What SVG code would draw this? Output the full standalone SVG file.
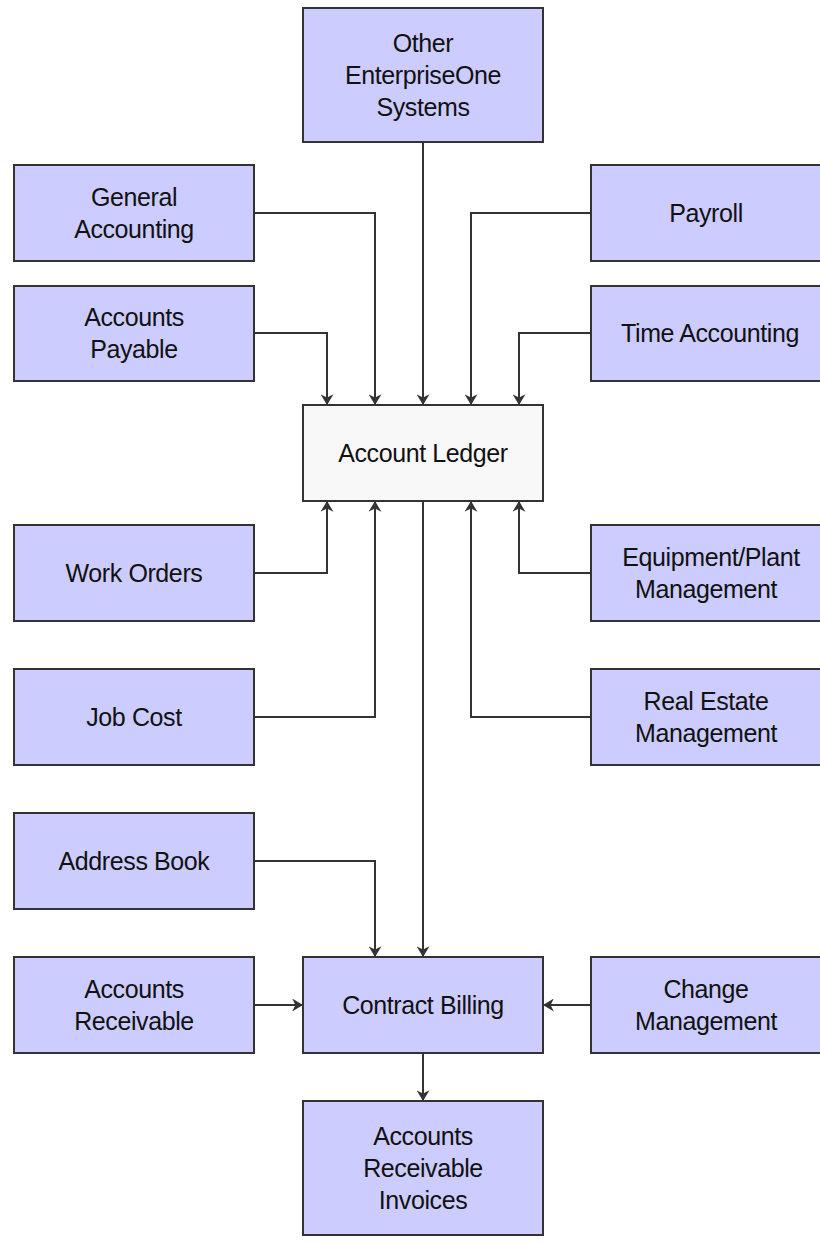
<svg xmlns="http://www.w3.org/2000/svg" width="820" height="1244" viewBox="0 0 820 1244">
<defs>
<style>
.box{fill:#ccccff;stroke:#333;stroke-width:2}
.ledger{fill:#f8f8f8;stroke:#333;stroke-width:2}
text{font-family:"Liberation Sans",Arial,sans-serif;font-size:25px;fill:#111;text-anchor:middle;letter-spacing:-0.4px}
.c path{fill:none;stroke:#333;stroke-width:2;marker-end:url(#ah)}
</style>
<marker id="ah" viewBox="0 0 10 12" refX="10" refY="6" markerWidth="12" markerHeight="13" markerUnits="userSpaceOnUse" orient="auto">
<path d="M0,0 L10,6 L0,12 L3,6 Z" fill="#333"/>
</marker>
</defs>
<rect width="820" height="1244" fill="#fff"/>
<g class="c">
<path d="M423,142 V405"/>
<path d="M254,213 H375 V405"/>
<path d="M254,333 H327 V405"/>
<path d="M591,213 H471 V405"/>
<path d="M591,333 H519 V405"/>
<path d="M254,573 H327 V501"/>
<path d="M254,717 H375 V501"/>
<path d="M591,573 H519 V501"/>
<path d="M591,717 H471 V501"/>
<path d="M423,501 V957"/>
<path d="M254,861 H375 V957"/>
<path d="M254,1005 H303"/>
<path d="M591,1005 H543"/>
<path d="M423,1053 V1101"/>
</g>
<g id="other"><rect class="box" x="303" y="8" width="240" height="134"/><text x="423" y="52">Other</text><text x="423" y="84">EnterpriseOne</text><text x="423" y="116">Systems</text></g>
<g id="general"><rect class="box" x="14" y="165" width="240" height="96"/><text x="134" y="206">General</text><text x="134" y="238">Accounting</text></g>
<g id="payroll"><rect class="box" x="591" y="165" width="240" height="96"/><text x="706" y="222">Payroll</text></g>
<g id="ap"><rect class="box" x="14" y="286" width="240" height="95"/><text x="134" y="326">Accounts</text><text x="134" y="358">Payable</text></g>
<g id="time"><rect class="box" x="591" y="286" width="240" height="95"/><text x="710" y="342">Time Accounting</text></g>
<g id="ledger"><rect class="ledger" x="303" y="405" width="240" height="96"/><text x="423" y="462">Account Ledger</text></g>
<g id="wo"><rect class="box" x="14" y="525" width="240" height="96"/><text x="134" y="582">Work Orders</text></g>
<g id="equip"><rect class="box" x="591" y="525" width="240" height="96"/><text x="711" y="566">Equipment/Plant</text><text x="706" y="598">Management</text></g>
<g id="job"><rect class="box" x="14" y="669" width="240" height="96"/><text x="134" y="726">Job Cost</text></g>
<g id="re"><rect class="box" x="591" y="669" width="240" height="96"/><text x="706" y="710">Real Estate</text><text x="706" y="742">Management</text></g>
<g id="ab"><rect class="box" x="14" y="813" width="240" height="96"/><text x="134" y="870">Address Book</text></g>
<g id="ar"><rect class="box" x="14" y="957" width="240" height="96"/><text x="134" y="998">Accounts</text><text x="134" y="1030">Receivable</text></g>
<g id="cb"><rect class="box" x="303" y="957" width="240" height="96"/><text x="423" y="1014">Contract Billing</text></g>
<g id="cm"><rect class="box" x="591" y="957" width="240" height="96"/><text x="706" y="998">Change</text><text x="706" y="1030">Management</text></g>
<g id="inv"><rect class="box" x="303" y="1101" width="240" height="134"/><text x="423" y="1145">Accounts</text><text x="423" y="1177">Receivable</text><text x="423" y="1209">Invoices</text></g>
</svg>
